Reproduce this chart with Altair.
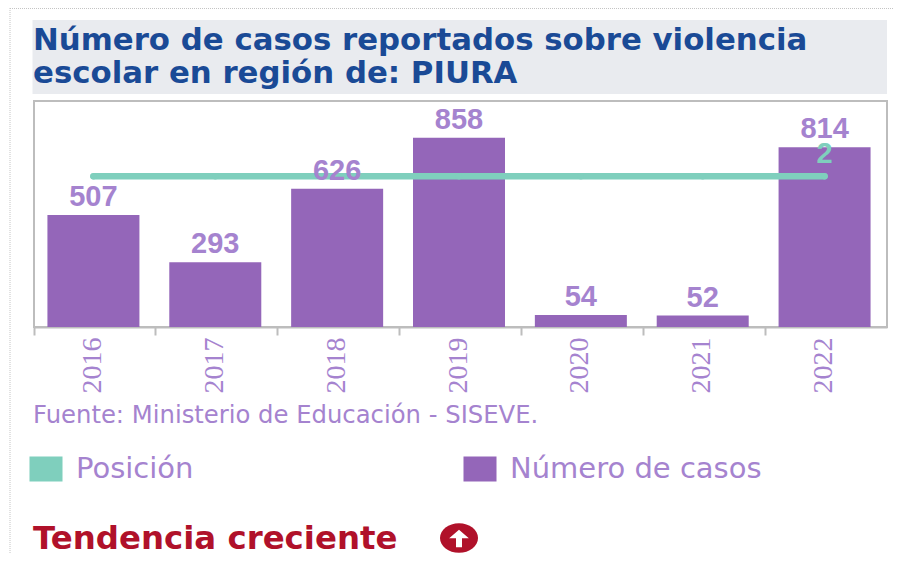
import altair as alt
import pandas as pd

years = ["2016", "2017", "2018", "2019", "2020", "2021", "2022"]
casos = [507, 293, 626, 858, 54, 52, 814]
posicion = [2, 2, 2, 2, 2, 2, 2]
posicion_label = ["", "", "", "", "", "", "2"]
series = ["Posición", "Número de casos"]
titulo = "Número de casos reportados sobre violencia\nescolar en región de: PIURA"
fuente = "Fuente: Ministerio de Educación - SISEVE."
tendencia = "Tendencia creciente"

PURPLE = "#9466b9"
TEAL = "#7fcfbd"
LABEL = "#a583cf"
NAVY = "#1a4a96"
RED = "#b0112a"
GREY = "#bdbdbd"
FONT = "Liberation Sans"
WIDE = "DejaVu Sans"
OFF = -1.5

df = pd.DataFrame({"year": years, "casos": casos, "posicion": posicion,
                   "plabel": posicion_label, "serie": series[1]})
band_scale = alt.Scale(paddingInner=0, paddingOuter=0)
x = alt.X("year:N", title=None, scale=band_scale,
          axis=alt.Axis(bandPosition=0, labelOffset=-2, labelAngle=-90,
                        labelFont="Liberation Sans Narrow", labelFontSize=28,
                        labelColor=LABEL, labelPadding=2, tickSize=8, tickWidth=2,
                        tickColor=GREY, domainColor=GREY, domainWidth=2, grid=False))
y_bar = alt.Y("casos:Q", axis=None, scale=alt.Scale(domain=[0, 1024]))
y_pos = alt.Y("posicion:Q", axis=None, scale=alt.Scale(domain=[0, 3]))

symbol = "M-1,-0.76H1V0.76H-1Z"
bars = alt.Chart(df).mark_bar(size=92, xOffset=OFF).encode(
    x=x, y=y_bar,
    color=alt.Color("serie:N", title=None,
                    scale=alt.Scale(domain=series, range=[TEAL, PURPLE]),
                    legend=alt.Legend(orient="none", legendX=-5, legendY=351, columns=2,
                                      symbolType=symbol, symbolSize=1090, symbolStrokeWidth=0,
                                      labelFont=WIDE, labelFontSize=29, labelColor=LABEL,
                                      labelLimit=400, labelOffset=13, columnPadding=135,
                                      gridAlign="all")))
bar_labels = alt.Chart(df).mark_text(font=FONT, fontWeight="bold", fontSize=29, color=LABEL,
                                     baseline="bottom", dy=-3, xOffset=OFF).encode(
    x=x, y=y_bar, text="casos:Q")

line = alt.Chart(df).mark_line(color=TEAL, strokeWidth=6.5, strokeCap="round", xOffset=OFF).encode(
    x=x, y=y_pos)
line_points = alt.Chart(df).mark_point(filled=True, color=TEAL, opacity=1, size=40, xOffset=OFF).encode(
    x=x, y=y_pos)
line_labels = alt.Chart(df).mark_text(font=FONT, fontWeight="bold", fontSize=29, color=TEAL,
                                      baseline="bottom", dy=-7, xOffset=OFF).encode(
    x=x, y=y_pos, text="plabel:N")

one = alt.Data(values=[{"k": 1}])
band = alt.Chart(one).mark_rect(color="#e9ebef").encode(
    x=alt.value(-1.5), x2=alt.value(853), y=alt.value(-81), y2=alt.value(-7))
title = alt.Chart(one).mark_text(text=titulo, lineBreak="\n", lineHeight=33, font=WIDE, fontWeight="bold",
                                 fontSize=30.8, color=NAVY, align="left", baseline="alphabetic").encode(
    x=alt.value(-1), y=alt.value(-51))
source = alt.Chart(one).mark_text(text=fuente, font=WIDE, fontSize=24.3, color=LABEL, align="left",
                                  baseline="alphabetic").encode(x=alt.value(-1), y=alt.value(322))
trend = alt.Chart(one).mark_text(text=tendencia, font=WIDE, fontWeight="bold", fontSize=32.4, color=RED,
                                 align="left", baseline="alphabetic").encode(x=alt.value(-1), y=alt.value(448))
ellipse = "M-1,0A1,0.78 0 1,1 1,0A1,0.78 0 1,1 -1,0Z"
arrow = "M-0.25,0.72V-0.02H-0.82L0,-0.72L0.82,-0.02H0.25V0.72Z"
icon = alt.Chart(one).mark_point(shape=ellipse, filled=True, color=RED, opacity=1, size=1444).encode(
    x=alt.value(425), y=alt.value(437))
icon_arrow = alt.Chart(one).mark_point(shape=arrow, filled=True, color="white", opacity=1, size=576).encode(
    x=alt.value(425), y=alt.value(437.5))
dot_v = alt.Chart(one).mark_rule(color="#c4c4c4", strokeWidth=1, strokeDash=[1, 1]).encode(
    x=alt.value(-24), y=alt.value(-93), y2=alt.value(453))
dot_h = alt.Chart(one).mark_rule(color="#c4c4c4", strokeWidth=1, strokeDash=[1, 1]).encode(
    x=alt.value(-24), x2=alt.value(859), y=alt.value(-92.5))

chart = alt.layer(
    dot_v, dot_h, band, title, source, trend, icon, icon_arrow,
    bars, line, line_points, bar_labels, line_labels
).resolve_scale(y="independent").properties(
    width=853, height=226,
    autosize=alt.AutoSizeParams(type="none"),
    padding={"left": 26, "top": 93, "right": 7, "bottom": 227},
).configure_view(stroke=GREY, strokeWidth=2)

chart.save("out.html", embed_options={"renderer": "svg", "actions": False})
